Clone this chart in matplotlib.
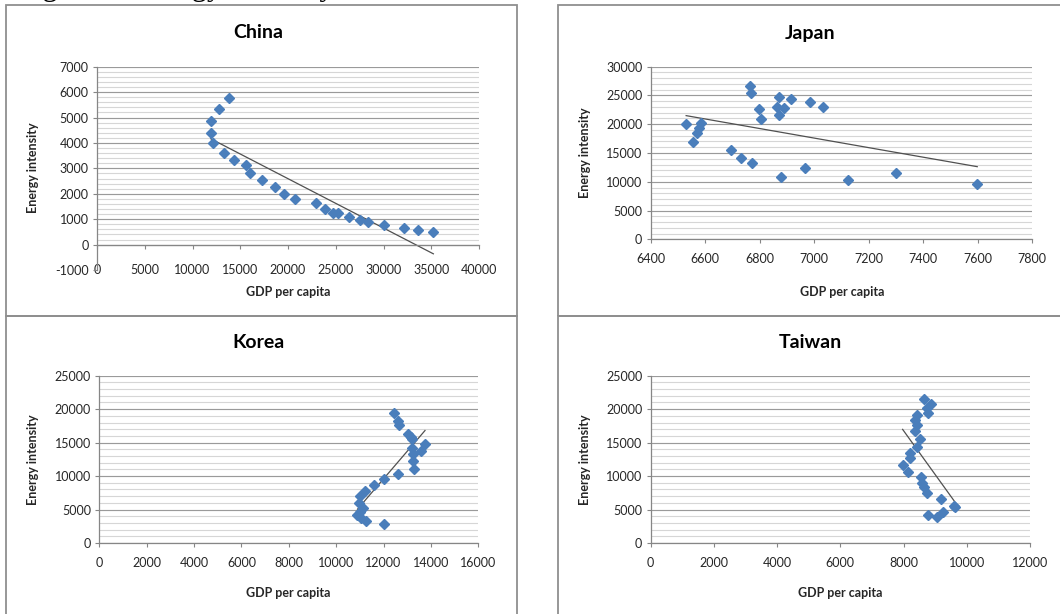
import numpy as np
import matplotlib.pyplot as plt
from matplotlib.patches import Rectangle

# ============================================================
# Data: GDP per capita vs. energy intensity
# ============================================================
china_gdp = [13775, 12800, 11960, 11925, 12135, 13250, 14300, 15620, 16040, 17300,
             18690, 19530, 20750, 22910, 23890, 24760, 25280, 26400, 27550, 28420,
             30090, 32190, 33650, 35220]
china_ei = [5780, 5320, 4850, 4380, 3990, 3590, 3330, 3120, 2800, 2540,
            2280, 1990, 1810, 1630, 1420, 1230, 1230, 1080, 970, 890,
            770, 640, 580, 500]

japan_gdp = [6530, 6555, 6569, 6579, 6583, 6693, 6731, 6770, 6764, 6768,
             6799, 6806, 6870, 6864, 6870, 6890, 6915, 6877, 6967, 6984,
             7033, 7125, 7300, 7598]
japan_ei = [20100, 16900, 18400, 19400, 20300, 15500, 14100, 13200, 26650, 25500,
            22600, 20900, 24700, 23050, 21600, 22900, 24400, 10800, 12450, 23900,
            22950, 10350, 11450, 9650]

korea_gdp = [12440, 12620, 12650, 13050, 13150, 13200, 13750, 13600, 13200, 13250,
             13250, 13280, 12600, 12000, 11600, 11200, 11000, 10950, 11150, 11000,
             10900, 11050, 11250, 12000]
korea_ei = [19400, 18200, 17600, 16300, 15800, 15500, 14800, 13700, 14200, 13300,
            12200, 11000, 10300, 9600, 8600, 7700, 7000, 6000, 5300, 4700,
            4200, 3800, 3300, 2900]

taiwan_gdp = [8650, 8870, 8750, 8780, 8420, 8360, 8440, 8360, 8520, 8440,
              8200, 8200, 7970, 8150, 8550, 8570, 8660, 8730, 9190, 9630,
              9240, 9070, 8780, 9600]
taiwan_ei = [21450, 20750, 20200, 19400, 19200, 18400, 17600, 16800, 15600, 14400,
             13500, 12650, 11600, 10650, 9800, 8900, 8300, 7500, 6600, 5400,
             4700, 3850, 4200, 5600]

# ============================================================
# Style
# ============================================================
W, H = 1060, 614
FONT = "Lato"
BLUE = "#4a7ebb"
AXIS_GRAY = "#868686"
MAJOR_GRID = "#9a9a9a"
MINOR_GRID = "#d6d6d6"
TEXT = "#262626"

plt.rcParams["font.family"] = [FONT, "DejaVu Sans"]


def px_rect(x0, y0, x1, y1):
    # pixel box (top-left origin) -> figure fraction rect
    return [x0 / W, 1 - y1 / H, (x1 - x0) / W, (y1 - y0) / H]


def fx(x):
    return x / W


def fy(y):
    return 1 - y / H


def draw_panel(fig, box, plot_px, title, gdp, ei, xlim, xstep, ylim, ystep,
               title_xy, ylab_xy, xlab_xy, axis_at_zero=False):
    # outer chart frame
    bx0, by0, bx1, by1 = box
    fig.patches.append(Rectangle((fx(bx0), fy(by1)), (bx1 - bx0) / W, (by1 - by0) / H,
                                 transform=fig.transFigure, fill=False,
                                 edgecolor="#8f8f8f", lw=1.3))

    ax = fig.add_axes(px_rect(*plot_px))
    ax.set_xlim(*xlim)
    ax.set_ylim(*ylim)
    ax.patch.set_alpha(0)

    # horizontal gridlines (major + 4 minor per step), only from 0 upward
    glo = max(ylim[0], 0)
    minor = np.arange(glo, ylim[1] + 1e-9, ystep / 5)
    ax.hlines(minor, xlim[0], xlim[1], colors=MINOR_GRID, lw=0.8, zorder=0)
    major = np.arange(glo, ylim[1] + 1e-9, ystep)
    ax.hlines(major, xlim[0], xlim[1], colors=MAJOR_GRID, lw=0.8, zorder=0)

    for s in ["top", "right"]:
        ax.spines[s].set_visible(False)
    for s in ["left", "bottom"]:
        ax.spines[s].set_color(AXIS_GRAY)
        ax.spines[s].set_linewidth(0.9)

    ax.set_xticks(np.arange(xlim[0], xlim[1] + 1e-9, xstep))
    ax.set_yticks(np.arange(ylim[0], ylim[1] + 1e-9, ystep))
    ax.xaxis.set_major_formatter(lambda v, p: f"{v:.0f}")
    ax.yaxis.set_major_formatter(lambda v, p: f"{v:.0f}")
    ax.tick_params(axis="both", direction="out", length=3, width=0.8,
                   color=AXIS_GRAY, labelsize=9, labelcolor=TEXT)
    ax.tick_params(axis="y", pad=3)
    if axis_at_zero:
        ax.spines["bottom"].set_position(("data", 0))
        ax.tick_params(axis="x", pad=11)
    else:
        ax.tick_params(axis="x", pad=7)

    ax.plot(gdp, ei, linestyle="none", marker="D", markersize=4.8,
            color=BLUE, markeredgecolor=BLUE, zorder=3, clip_on=False)

    # linear trend line over the data range
    slope, icpt = np.polyfit(gdp, ei, 1)
    xs = np.array([min(gdp), max(gdp)])
    ax.plot(xs, slope * xs + icpt, color="#505050", lw=0.9, zorder=2, clip_on=False)

    fig.text(fx(title_xy[0]), fy(title_xy[1]), title, ha="center", va="center",
             fontsize=14, fontweight="bold", color="black")
    fig.text(fx(ylab_xy[0]), fy(ylab_xy[1]), "Energy intensity", ha="center", va="center",
             rotation=90, fontsize=9, fontweight="bold", color=TEXT)
    fig.text(fx(xlab_xy[0]), fy(xlab_xy[1]), "GDP per capita", ha="center", va="center",
             fontsize=9, fontweight="bold", color=TEXT)
    return ax


fig = plt.figure(figsize=(W / 100, H / 100), dpi=100)
fig.patch.set_facecolor("white")

# caption above the charts, running off the top edge
fig.text(fx(17), fy(-5.5), "Figure 4. Energy intensity", ha="left", va="baseline",
         fontsize=22, family=["Liberation Serif"], color="black")

draw_panel(fig, (6, 5, 517, 316), (97, 66.7, 479, 270), "China",
           china_gdp, china_ei, (0, 40000), 5000, (-1000, 7000), 1000,
           (258, 32), (33, 168), (288, 292), axis_at_zero=True)
draw_panel(fig, (558, 5, 1075, 316), (650.7, 66.7, 1032.3, 239.3), "Japan",
           japan_gdp, japan_ei, (6400, 7800), 200, (0, 30000), 5000,
           (810, 33), (585, 153), (842, 292))
draw_panel(fig, (6, 316, 517, 630), (99.3, 375.7, 478.3, 543), "Korea",
           korea_gdp, korea_ei, (0, 16000), 2000, (0, 25000), 5000,
           (258, 343), (33, 460), (288, 593))
draw_panel(fig, (558, 316, 1075, 630), (650.7, 375.7, 1030, 543), "Taiwan",
           taiwan_gdp, taiwan_ei, (0, 12000), 2000, (0, 25000), 5000,
           (810, 343), (585, 460), (840, 593))

fig.savefig("out.png", dpi=100)
